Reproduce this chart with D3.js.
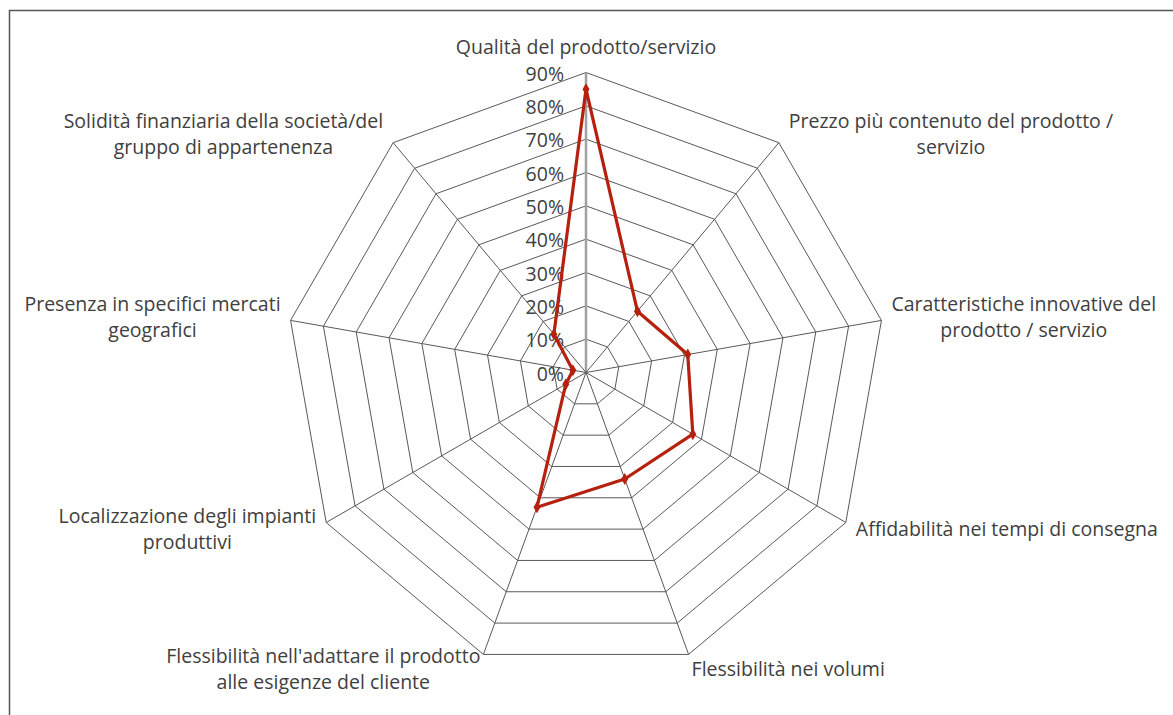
<!DOCTYPE html>
<html>
<head>
<meta charset="utf-8">
<script src="https://cdn.jsdelivr.net/npm/d3@7"></script>
<style>
  body { margin: 0; background: #fff; }
  text { font-family: "Open Sans", "Noto Sans", sans-serif; fill: #404040; }
</style>
</head>
<body>
<div id="chart"></div>
<script>
// Radar chart - fattori di competitività

const categories = [
    ["Qualità del prodotto/servizio"],
    ["Prezzo più contenuto del prodotto /", "servizio"],
    ["Caratteristiche innovative del", "prodotto / servizio"],
    ["Affidabilità nei tempi di consegna"],
    ["Flessibilità nei volumi"],
    ["Flessibilità nell'adattare il prodotto", "alle esigenze del cliente"],
    ["Localizzazione degli impianti", "produttivi"],
    ["Presenza in specifici mercati", "geografici"],
    ["Solidità finanziaria della società/del", "gruppo di appartenenza"]
];
const values = [85, 24, 31, 37, 34, 43, 7, 4, 15];
const ticks = [0, 10, 20, 30, 40, 50, 60, 70, 80, 90];

let width = 1173, height = 715;
let cx = 586, cy = 372.5;
const fontSize = "19.5px";

let svg = d3.select("#chart").append("svg")
    .attr("width", width)
    .attr("height", height);

// frame (only left/top visible in the original crop)
svg.append("rect")
    .attr("x", 9.5).attr("y", 10.5)
    .attr("width", width + 20).attr("height", height + 20)
    .attr("fill", "none")
    .attr("stroke", "#555")
    .attr("stroke-width", 1.5);

let g = svg.append("g").attr("transform", `translate(${cx},${cy})`);

let r = d3.scaleLinear().domain([0, 90]).range([0, 300]);
let n = categories.length;
let angle = i => i * 2 * Math.PI / n;

let ringLine = d3.lineRadial()
    .angle((d, i) => angle(i))
    .radius(d => r(d))
    .curve(d3.curveLinearClosed);

// rings
g.append("g").selectAll("path")
    .data(ticks.slice(1))
    .enter().append("path")
    .attr("d", t => ringLine(d3.range(n).map(() => t)))
    .attr("fill", "none")
    .attr("stroke", "#595959")
    .attr("stroke-width", 1);

// spokes
g.append("g").selectAll("line")
    .data(d3.range(n))
    .enter().append("line")
    .attr("x1", 0).attr("y1", 0)
    .attr("x2", i => r(90) * Math.sin(angle(i)))
    .attr("y2", i => -r(90) * Math.cos(angle(i)))
    .attr("stroke", i => i === 0 ? "#a0a0a0" : "#595959")
    .attr("stroke-width", i => i === 0 ? 2.5 : 1);

// value axis labels
g.append("g").selectAll("text")
    .data(ticks)
    .enter().append("text")
    .attr("x", -22)
    .attr("y", t => -r(t) + 3)
    .attr("text-anchor", "end")
    .attr("dominant-baseline", "middle")
    .style("font-size", fontSize)
    .text(t => t + "%");

// data series
const red = "#b5200f";
g.append("path")
    .attr("d", ringLine(values))
    .attr("fill", "none")
    .attr("stroke", red)
    .attr("stroke-width", 3.2)
    .attr("stroke-linejoin", "round");

g.append("g").selectAll("path")
    .data(values)
    .enter().append("path")
    .attr("d", d3.symbol().type(d3.symbolDiamond).size(42))
    .attr("transform", (v, i) => `translate(${r(v) * Math.sin(angle(i))},${-r(v) * Math.cos(angle(i))})`)
    .attr("fill", red);

// category labels
const lineH = 26;
let labels = g.append("g").selectAll("text")
    .data(categories)
    .enter().append("text")
    .style("font-size", fontSize)
    .attr("text-anchor", "middle");

labels.selectAll("tspan")
    .data(d => d)
    .enter().append("tspan")
    .text(d => d);

labels.each(function (lines, i) {
    let el = d3.select(this);
    let w = 0;
    el.selectAll("tspan").each(function () {
        w = Math.max(w, this.getComputedTextLength());
    });
    let s = Math.sin(angle(i)), c = Math.cos(angle(i));
    let vx = r(90) * s, vy = -r(90) * c;
    let x, ymid;
    if (Math.abs(s) < 0.01) {
        x = vx;
        ymid = vy - 24;
    } else {
        let pad = Math.abs(s) < 0.4 ? 3 : 10;
        x = vx + Math.sign(s) * (pad + w / 2);
        ymid = vy + (c > 0 ? -c * 9 : -c * 17);
    }
    let h = lines.length * lineH;
    let top = ymid - h / 2;
    el.selectAll("tspan")
        .attr("x", x)
        .attr("y", (d, k) => top + k * lineH + lineH / 2)
        .attr("dominant-baseline", "middle");
});
</script>
</body>
</html>
